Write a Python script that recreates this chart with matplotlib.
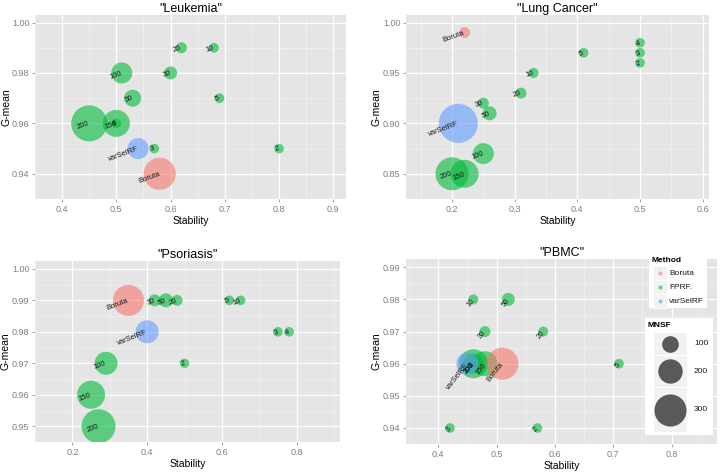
import matplotlib
matplotlib.use('Agg')
import matplotlib.pyplot as plt
from matplotlib.patches import Rectangle
import numpy as np

plt.rcParams['font.family'] = ['Liberation Sans', 'DejaVu Sans']

labels = ['2', '3', '4', '5', '10', '20', '30', '50', '100', '150', '200', 'Boruta', 'varSelRF']

# Leukemia
leu_stab = [0.80, 0.57, 0.50, 0.69, 0.68, 0.62, 0.60, 0.53, 0.51, 0.50, 0.45, 0.58, 0.54]
leu_gm = [0.95, 0.95, 0.96, 0.97, 0.99, 0.99, 0.98, 0.97, 0.98, 0.96, 0.96, 0.94, 0.95]
leu_mnsf = [8, 8, 8, 10, 10, 26, 52, 104, 156, 234, 350, 300, 156]

# Lung Cancer
lung_stab = [0.50, 0.50, 0.50, 0.41, 0.33, 0.31, 0.25, 0.26, 0.25, 0.22, 0.20, 0.22, 0.21]
lung_gm = [0.96, 0.97, 0.98, 0.97, 0.95, 0.93, 0.92, 0.91, 0.87, 0.85, 0.85, 0.99, 0.90]
lung_mnsf = [8, 8, 8, 8, 13, 26, 26, 65, 156, 247, 312, 26, 390]

# Psoriasis
pso_stab = [0.50, 0.75, 0.78, 0.62, 0.65, 0.48, 0.42, 0.45, 0.29, 0.25, 0.27, 0.35, 0.40]
pso_gm = [0.97, 0.98, 0.98, 0.99, 0.99, 0.99, 0.99, 0.99, 0.97, 0.96, 0.95, 0.99, 0.98]
pso_mnsf = [5, 8, 8, 8, 8, 26, 39, 65, 182, 247, 325, 286, 182]

# PBMC
pbmc_stab = [0.57, 0.42, 0.46, 0.71, 0.46, 0.58, 0.48, 0.52, 0.46, 0.48, 0.46, 0.51, 0.45]
pbmc_gm = [0.94, 0.94, 0.96, 0.96, 0.98, 0.97, 0.97, 0.98, 0.96, 0.96, 0.96, 0.96, 0.96]
pbmc_mnsf = [8, 8, 8, 8, 13, 13, 26, 52, 143, 208, 260, 300, 170]

methods = ['Boruta', 'FPRF.', 'varSelRF']
method_col = {'Boruta': '#F8766D', 'FPRF.': '#00BA38', 'varSelRF': '#619CFF'}
size_breaks = [100, 200, 300]


def diam(v):
    # bubble diameter in pixels
    return 9 + 0.077 * np.asarray(v, dtype=float)


def method_of(lab):
    return lab if lab in ('Boruta', 'varSelRF') else 'FPRF.'


fig = plt.figure(figsize=(7.24, 4.73), dpi=100)

# title, x, y, size, xlim, ylim, xticks, yticks, label angle, axes box (px), ylabel right edge (px)
panels = [
    ('"Leukemia"', leu_stab, leu_gm, leu_mnsf,
     (0.375, 0.9235), (0.9368, 1.003), np.arange(0.4, 0.91, 0.1), [0.94, 0.96, 0.98, 1.00], 20,
     (35, 15, 311, 184), 11.5),
    ('"Lung Cancer"', lung_stab, lung_gm, lung_mnsf,
     (0.1266, 0.61), (0.842, 1.0075), np.arange(0.2, 0.61, 0.1), [0.85, 0.90, 0.95, 1.00], 20,
     (406, 15, 303, 184), 382),
    ('"Psoriasis"', pso_stab, pso_gm, pso_mnsf,
     (0.167, 0.916), (0.9473, 1.0025), [0.2, 0.4, 0.6, 0.8], [0.95, 0.96, 0.97, 0.98, 0.99, 1.00], 21,
     (35, 261, 305, 181), 11),
    ('"PBMC"', pbmc_stab, pbmc_gm, pbmc_mnsf,
     (0.3446, 0.878), (0.9374, 0.9926), np.arange(0.4, 0.81, 0.1), [0.94, 0.95, 0.96, 0.97, 0.98, 0.99], 52,
     (406, 259, 311, 185), 382),
]

for title, xs, ys, ms, xl, yl, xt, yt, ang, box, ylx in panels:
    l, t, w, h = box
    ax = fig.add_axes([l / 724, 1 - (t + h) / 473, w / 724, h / 473])
    ax.set_facecolor('#E5E5E5')
    for s in ax.spines.values():
        s.set_visible(False)
    ax.set_xlim(*xl)
    ax.set_ylim(*yl)
    ax.set_xticks(xt)
    ax.set_yticks(yt)
    ax.set_xticklabels(['%.1f' % v for v in xt])
    ax.set_yticklabels(['%.2f' % v for v in yt])
    xt = np.asarray(xt)
    yt = np.asarray(yt)
    dx = xt[1] - xt[0]
    dy = yt[1] - yt[0]
    ax.set_xticks(np.arange(xt[0] - dx / 2, xl[1], dx), minor=True)
    ax.set_yticks(np.arange(yt[0] - dy / 2, yl[1], dy), minor=True)
    ax.grid(which='major', color='white', linewidth=0.9)
    ax.grid(which='minor', color='#F2F2F2', linewidth=0.45)
    ax.set_axisbelow(True)
    ax.tick_params(which='major', length=2.5, width=0.5, color='#7F7F7F',
                   labelcolor='#7F7F7F', labelsize=6.5, pad=1.5)
    ax.tick_params(which='minor', length=0)
    cols = [method_col[method_of(lb)] for lb in labels]
    ax.scatter(xs, ys, s=(diam(ms) * 0.72) ** 2, c=cols, alpha=0.6, linewidths=0, zorder=3)
    for lb, x, y in zip(labels, xs, ys):
        ax.text(x, y, lb, fontsize=5.5, color='#1A1A1A', ha='right', va='center',
                rotation=ang, rotation_mode='anchor', zorder=4)
    ax.set_title(title, fontsize=9, pad=2.5)
    ax.set_xlabel('Stability', fontsize=7.5, labelpad=1.5)
    ax.set_ylabel('G-mean', fontsize=7.5)
    ax.yaxis.set_label_coords((ylx - l) / w, 0.5)

# legends drawn in pixel coordinates on an overlay
lg = fig.add_axes([0, 0, 1, 1], zorder=10)
lg.set_xlim(0, 724)
lg.set_ylim(473, 0)
lg.axis('off')

lg.add_patch(Rectangle((649, 253), 58, 55, facecolor='white', edgecolor='none'))
lg.text(652, 260, 'Method', fontsize=6, fontweight='bold', va='center', ha='left')
key_y = [273, 287, 301]
for m, ky in zip(methods, key_y):
    lg.add_patch(Rectangle((653, ky - 7), 14, 14, facecolor='#F2F2F2', edgecolor='white', linewidth=0.6))
    lg.scatter([660], [ky], s=(4 * 0.72) ** 2, c=method_col[m], alpha=0.6, linewidths=0)
    lg.text(669, ky, m, fontsize=6, va='center', ha='left', color='#1A1A1A')

lg.add_patch(Rectangle((645, 318), 68, 117, facecolor='white', edgecolor='none'))
lg.text(648, 325, 'MNSF', fontsize=6, fontweight='bold', va='center', ha='left')
box_edges = [332, 355, 387, 432]
for i, b in enumerate(size_breaks):
    y0, y1 = box_edges[i], box_edges[i + 1]
    lg.add_patch(Rectangle((653, y0), 34, y1 - y0, facecolor='#F2F2F2', edgecolor='white', linewidth=0.8))
    lg.scatter([670], [(y0 + y1) / 2], s=(diam(b) * 0.72) ** 2, c='#595959', linewidths=0)
    lg.text(694, (y0 + y1) / 2, str(b), fontsize=6, va='center', ha='left', color='#1A1A1A')

fig.savefig('out.png', dpi=100)
